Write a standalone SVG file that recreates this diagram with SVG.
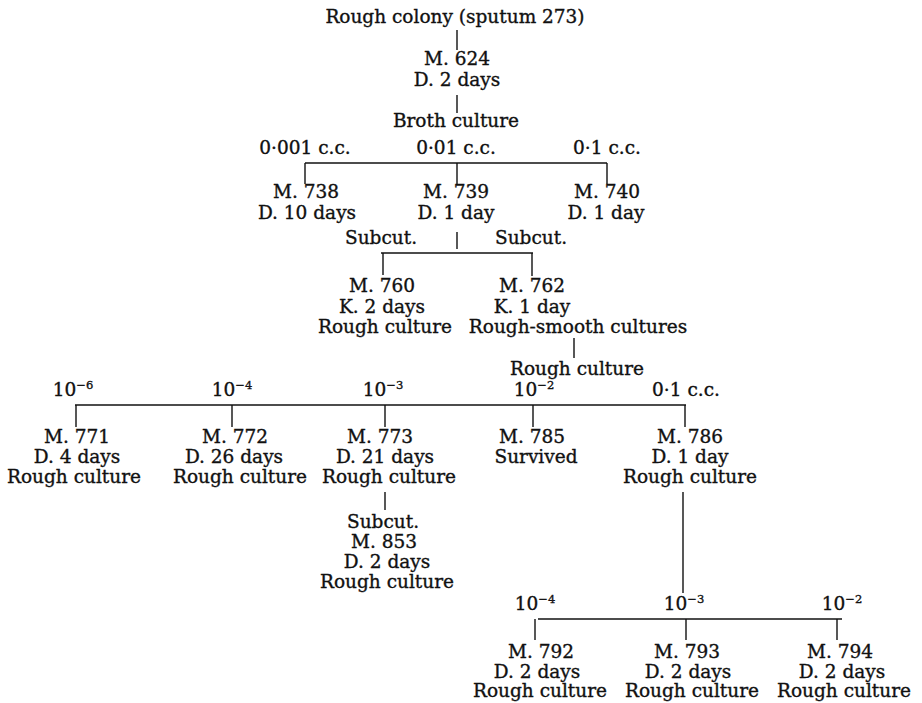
<svg xmlns="http://www.w3.org/2000/svg" width="922" height="703" viewBox="0 0 922 703">
<style>
text{font-family:"DejaVu Serif","Liberation Serif",serif;font-size:18.5px;fill:#111;stroke:#111;stroke-width:0.35;text-anchor:middle}
.sup{font-size:11.5px}
line{stroke:#111;stroke-width:1.4}
</style>
<rect width="922" height="703" fill="#fff"/>
<g id="connectors">
<line x1="457" y1="30" x2="457" y2="50"/>
<line x1="457" y1="95" x2="457" y2="113"/>
<line x1="305" y1="163" x2="607" y2="163"/>
<line x1="305" y1="163" x2="305" y2="184"/>
<line x1="457" y1="163" x2="457" y2="184"/>
<line x1="607" y1="163" x2="607" y2="184"/>
<line x1="457" y1="232" x2="457" y2="249"/>
<line x1="381" y1="253" x2="533" y2="253"/>
<line x1="383" y1="253" x2="383" y2="275"/>
<line x1="532" y1="253" x2="532" y2="276"/>
<line x1="574" y1="338" x2="574" y2="358"/>
<line x1="75" y1="405" x2="686" y2="405"/>
<line x1="76" y1="405" x2="76" y2="427"/>
<line x1="232" y1="405" x2="232" y2="427"/>
<line x1="385" y1="405" x2="385" y2="427"/>
<line x1="533" y1="405" x2="533" y2="427"/>
<line x1="685" y1="405" x2="685" y2="427"/>
<line x1="385" y1="492" x2="385" y2="510"/>
<line x1="683" y1="492" x2="683" y2="593"/>
<line x1="538" y1="619" x2="842" y2="619"/>
<line x1="535" y1="619" x2="535" y2="640"/>
<line x1="686" y1="619" x2="686" y2="640"/>
<line x1="837" y1="619" x2="837" y2="640"/>
</g>
<g id="root"><text x="455" y="23">Rough colony (sputum 273)</text></g>
<g id="m624"><text x="457" y="65">M. 624</text><text x="457" y="86">D. 2 days</text></g>
<g id="broth"><text x="456" y="127">Broth culture</text></g>
<g id="doses1">
<text x="305" y="154">0·001 c.c.</text>
<text x="456" y="154">0·01 c.c.</text>
<text x="607" y="154">0·1 c.c.</text>
</g>
<g id="m738"><text x="306" y="198">M. 738</text><text x="307" y="219">D. 10 days</text></g>
<g id="m739"><text x="456" y="198">M. 739</text><text x="456" y="219">D. 1 day</text></g>
<g id="m740"><text x="607" y="198">M. 740</text><text x="606" y="219">D. 1 day</text></g>
<g id="subcut1"><text x="381" y="244">Subcut.</text><text x="531" y="244">Subcut.</text></g>
<g id="m760"><text x="382" y="292">M. 760</text><text x="382" y="313">K. 2 days</text><text x="385" y="333">Rough culture</text></g>
<g id="m762"><text x="532" y="292">M. 762</text><text x="532" y="313">K. 1 day</text><text x="578" y="333">Rough-smooth cultures</text></g>
<g id="rough762"><text x="577" y="375">Rough culture</text></g>
<g id="doses2">
<text x="73" y="396">10<tspan class="sup" dy="-7">−6</tspan></text>
<text x="232" y="396">10<tspan class="sup" dy="-7">−4</tspan></text>
<text x="383" y="396">10<tspan class="sup" dy="-7">−3</tspan></text>
<text x="534" y="396">10<tspan class="sup" dy="-7">−2</tspan></text>
<text x="686" y="396">0·1 c.c.</text>
</g>
<g id="m771"><text x="77" y="443">M. 771</text><text x="77" y="463">D. 4 days</text><text x="74" y="483">Rough culture</text></g>
<g id="m772"><text x="235" y="443">M. 772</text><text x="234" y="463">D. 26 days</text><text x="240" y="483">Rough culture</text></g>
<g id="m773"><text x="380" y="443">M. 773</text><text x="385" y="463">D. 21 days</text><text x="389" y="483">Rough culture</text></g>
<g id="m785"><text x="532" y="443">M. 785</text><text x="536" y="463">Survived</text></g>
<g id="m786"><text x="690" y="443">M. 786</text><text x="690" y="463">D. 1 day</text><text x="690" y="483">Rough culture</text></g>
<g id="m853"><text x="383" y="528">Subcut.</text><text x="384" y="548">M. 853</text><text x="387" y="568">D. 2 days</text><text x="387" y="588">Rough culture</text></g>
<g id="doses3">
<text x="535" y="610">10<tspan class="sup" dy="-7">−4</tspan></text>
<text x="684" y="610">10<tspan class="sup" dy="-7">−3</tspan></text>
<text x="842" y="610">10<tspan class="sup" dy="-7">−2</tspan></text>
</g>
<g id="m792"><text x="541" y="658">M. 792</text><text x="537" y="678">D. 2 days</text><text x="540" y="697">Rough culture</text></g>
<g id="m793"><text x="687" y="658">M. 793</text><text x="688" y="678">D. 2 days</text><text x="692" y="697">Rough culture</text></g>
<g id="m794"><text x="840" y="658">M. 794</text><text x="842" y="678">D. 2 days</text><text x="844" y="697">Rough culture</text></g>
</svg>
